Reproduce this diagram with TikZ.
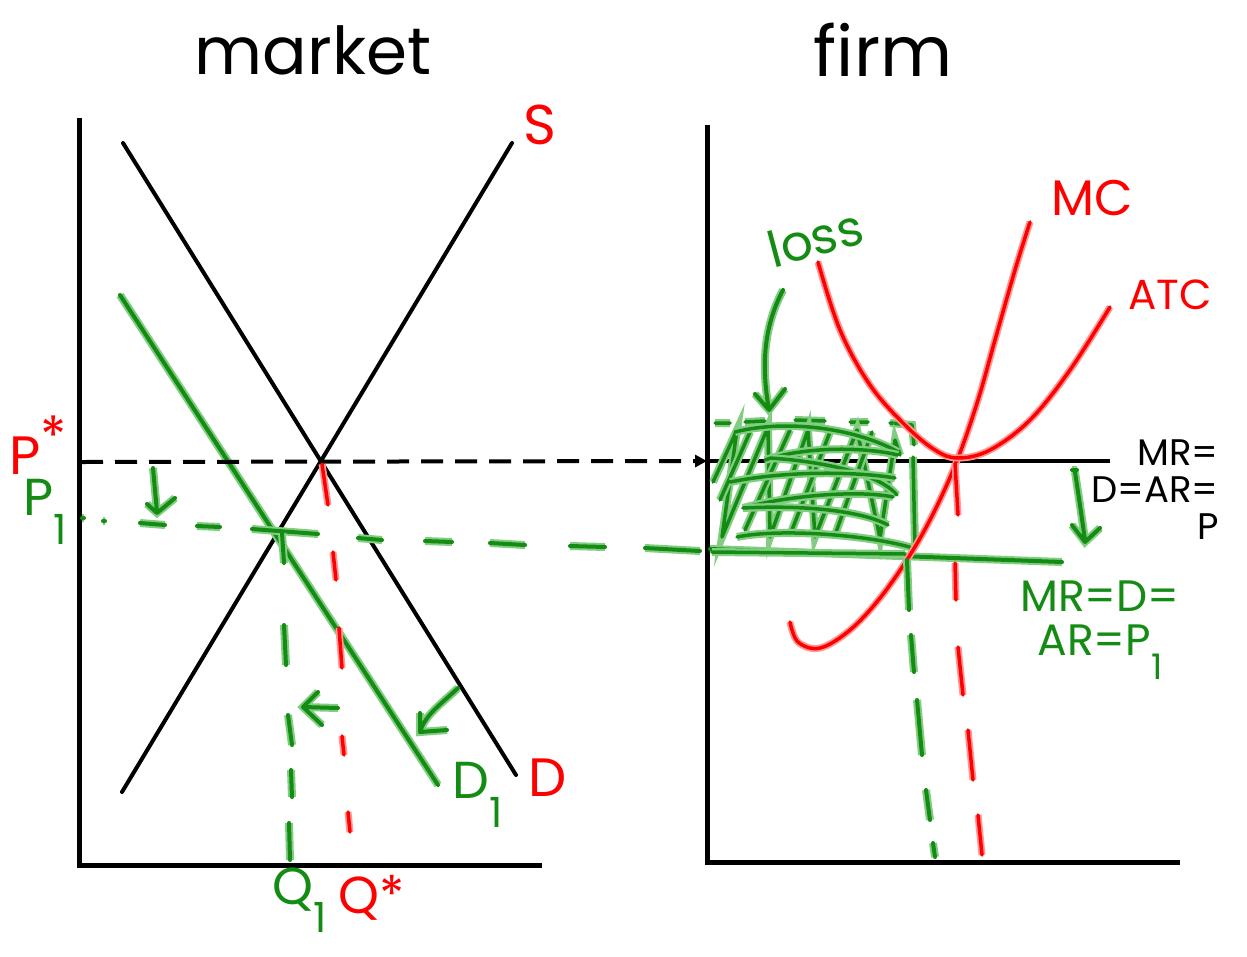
\documentclass[tikz,border=0pt]{standalone}
\usepackage{fontspec}
\usepackage{graphicx}
\setmainfont{Poppins}
\usetikzlibrary{arrows.meta}
\definecolor{gdark}{RGB}{20,140,20}
\definecolor{ghalo}{RGB}{130,205,130}
\definecolor{rdark}{RGB}{255,0,0}
\definecolor{rhalo}{RGB}{255,150,150}
\newcommand{\subone}{\raisebox{-0.55em}{\scalebox{0.8}{1}}}
\begin{document}
\begin{tikzpicture}[x=1pt,y=-1pt,
  axisline/.style={line width=5pt, black},
  blk/.style={line width=4pt, black, line cap=round},
  gl/.style={line width=4pt, gdark, line cap=round, line join=round, preaction={draw=ghalo, line width=8pt}},
  rl/.style={line width=3.5pt, rdark, line cap=round, line join=round, preaction={draw=rhalo, line width=7pt}},
  fs/.style={font=\fontsize{#1}{#1}\selectfont, inner sep=0pt},
  glab/.style={fs=#1, text=gdark},
  rlab/.style={fs=#1, text=rdark},
  klab/.style={fs=#1, text=black}]
\useasboundingbox (0,0) rectangle (1247,956);
\fill[white] (0,0) rectangle (1247,956);

% titles
\node[klab=66] (tmarket) at (313,50) {market};
\node[klab=70] (tfirm) at (883,50) {firm};

% ---------- market panel ----------
\coordinate (Ltop) at (79,118);
\coordinate (Lo) at (79,865);
\coordinate (Lright) at (542,865);
\draw[axisline] (Ltop) -- (Lo) -- (Lright);

\coordinate (Sa) at (122,792); \coordinate (Sb) at (512,143);
\coordinate (Da) at (123,143); \coordinate (Db) at (516,775);
\draw[blk] (Sa) -- (Sb);
\draw[blk] (Da) -- (Db);

\coordinate (D1a) at (120,295); \coordinate (D1b) at (438,785);
\draw[gl] (D1a) -- (D1b);

% P* dashed arrow to firm
\coordinate (Pst) at (81,462);
\coordinate (Rmr) at (707,461);
\draw[line width=4pt, black, dash pattern=on 22pt off 12pt, -{Triangle[length=12pt,width=12pt]}] (Pst) -- (Rmr);

% red tick + dashed vertical at Q*
\draw[rl] (322,464) -- (328,505)
  (333,552) -- (336,580) (339,628) -- (342,668) (342,736) -- (344,755) (348,812) -- (350,832);

% green dashed horizontal at P1
\draw[gl] (82,518) -- (84,518) (103,521) -- (105,521)
  (140,523) -- (165,525) (197,526) -- (220,527) (252,529) -- (318,534)
  (358,538) -- (382,540) (425,541) -- (452,542) (490,543) -- (525,545)
  (570,546) -- (605,547) (645,548) -- (700,551);

% green dashed vertical at Q1
\draw[gl] (282,533) -- (284,563) (284,625) -- (286,665) (288,715) -- (292,745)
  (291,770) -- (292,797) (289,823) -- (290,860);

% small arrow P* -> P1
\draw[gl] (153,468) -- (157,512) (147,504) -- (157,513) -- (175,498);
% small left arrow
\draw[gl] (318,692) -- (303,707) -- (322,725) (303,707) -- (338,708);
% D -> D1 arrow
\draw[gl] (458,688) .. controls (440,705) and (425,715) .. (420,732)
  (420,713) -- (420,732) -- (447,730);

% market labels
\node[rlab=56] (lS) at (540,125) {S};
\node[rlab=54] (lD) at (548,778) {D};
\node[glab=52] (lD1) at (478,795) {D\subone};
\node[rlab=54] (lPs) at (38,445) {P\raisebox{0.35em}{*}};
\node[glab=52] (lP1) at (45,512) {P\subone};
\node[glab=52] (lQ1) at (300,900) {Q\subone};
\node[rlab=52] (lQs) at (372,898) {Q*};

% ---------- firm panel ----------
\coordinate (Rtop) at (707,125);
\coordinate (Ro) at (707,862);
\coordinate (Rright) at (1180,862);
\draw[axisline] (Rtop) -- (Ro) -- (Rright);
\coordinate (Rend) at (1110,461);
\draw[line width=4pt, black] (Rmr) -- (Rend);

% loss hatch
\draw[gl, line width=3.5pt] (715,423) -- (730,423) (745,422) -- (765,421) (795,420) -- (825,421)
  (850,422) -- (868,422) (890,423) -- (912,425) -- (914,445);
\draw[gl, line width=3.5pt] (713,482) -- (737,430) -- (722,537) -- (768,427) -- (770,537) -- (808,430)
  -- (815,537) -- (857,430) -- (880,538) -- (895,440) -- (900,455);
\draw[gl, line width=3.5pt] (720,500) -- (750,432) (745,530) -- (790,430) (790,535) -- (830,432) (835,535) -- (872,432);
\draw[gl, line width=3.5pt] (735,432) .. controls (790,418) and (860,430) .. (898,452);
\draw[gl, line width=3.5pt] (765,460) .. controls (810,445) and (870,448) .. (898,455);
\draw[gl, line width=3.5pt] (770,458) .. controls (830,462) and (880,475) .. (897,495);
\draw[gl, line width=3.5pt] (730,482) .. controls (790,470) and (860,472) .. (895,478);
\draw[gl, line width=3.5pt] (743,508) .. controls (790,495) and (860,490) .. (893,497);
\draw[gl, line width=3.5pt] (743,508) .. controls (800,505) and (860,510) .. (888,525);
\draw[gl, line width=3.5pt] (737,537) .. controls (780,528) and (870,535) .. (913,548);
\draw[gl, line width=3.5pt] (913,457) -- (915,547);

% green P1 line in firm
\coordinate (Gl) at (710,549); \coordinate (Gr) at (1062,562);
\draw[gl] (Gl) -- (Gr);
\draw[gl, line width=3.5pt] (712,552) -- (905,554);

% cost curves
\draw[rl] plot[smooth, tension=0.6] coordinates {(790,622) (798,642) (820,648) (850,630) (880,598) (910,555) (935,510) (958,458) (978,400) (995,340) (1015,270) (1030,222)};
\draw[rl] plot[smooth, tension=0.6] coordinates {(818,262) (840,330) (870,385) (905,425) (935,450) (958,458) (990,450) (1030,420) (1070,370) (1110,307)};

% red dashed at Q*
\draw[rl] (955,463) -- (958,515) (955,563) -- (956,600) (958,647) -- (963,695)
  (968,730) -- (973,780) (978,815) -- (982,855);
% green dashed at Q1
\draw[gl] (907,560) -- (909,610) (911,635) -- (914,672) (917,700) -- (922,755)
  (926,790) -- (930,820) (933,843) -- (935,857);

% down arrow MR shift
\draw[gl] (1072,470) -- (1077,470) (1075,472) .. controls (1080,505) .. (1085,540)
  (1072,525) -- (1085,542) -- (1100,528);

% loss label and arrow
\node[glab=50, rotate=15] (lloss) at (815,238) {loss};
\draw[gl] (783,290) .. controls (762,330) and (762,370) .. (769,410)
  (755,394) -- (769,410) -- (785,389);

% firm labels
\node[rlab=50] (lMC) at (1092,198) {MC};
\node[rlab=42] (lATC) at (1170,295) {ATC};
\node[klab=37, align=right] (lMR) at (1155,490) {MR=\\D=AR=\\P};
\node[glab=44, align=center] (lMRg) at (1100,630) {MR=D=\\AR=P\subone};
\end{tikzpicture}
\end{document}
